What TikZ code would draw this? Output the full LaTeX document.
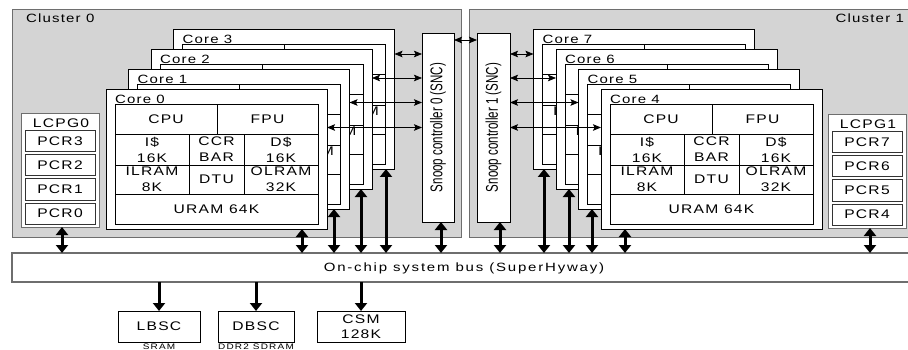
\documentclass[tikz,border=0pt]{standalone}
\usepackage{fontspec}
\setmainfont{Liberation Sans}[FakeStretch=1.25,LetterSpace=10]
\newfontfamily\sncfont{Liberation Sans}
\newfontfamily\widefont{Liberation Sans}[FakeStretch=1.25,LetterSpace=15]
\usetikzlibrary{arrows.meta,calc}
\definecolor{clfill}{RGB}{212,212,212}
\definecolor{clline}{RGB}{110,110,110}
% #1 name, #2 x, #3 y, #4 number
\newcommand\mkcore[4]{%
  \node[corebox,anchor=north west] (#1) at (#2,#3) {};
  \node[ttl,anchor=west] (#1t) at ($(#1.north west)+(9,10)$) {Core #4};
  \node[cell,anchor=north west,minimum width=102,minimum height=30] (#1cpu) at ($(#1.north west)+(9,15)$) {CPU};
  \node[cell,anchor=north west,minimum width=101,minimum height=30] (#1fpu) at ($(#1.north west)+(111,15)$) {FPU};
  \node[cell,anchor=north west,minimum width=74,minimum height=31] (#1ic) at ($(#1.north west)+(9,45)$) {I\$\\16K};
  \node[cell,anchor=north west,minimum width=55,minimum height=31] (#1ccr) at ($(#1.north west)+(83,45)$) {CCR\\BAR};
  \node[cell,anchor=north west,minimum width=74,minimum height=31] (#1dc) at ($(#1.north west)+(138,45)$) {D\$\\16K};
  \node[cell,anchor=north west,minimum width=74,minimum height=29] (#1il) at ($(#1.north west)+(9,76)$) {ILRAM\\8K};
  \node[cell,anchor=north west,minimum width=55,minimum height=29] (#1dtu) at ($(#1.north west)+(83,76)$) {DTU};
  \node[cell,anchor=north west,minimum width=74,minimum height=29] (#1ol) at ($(#1.north west)+(138,76)$) {OLRAM\\32K};
  \node[cell,anchor=north west,minimum width=203,minimum height=30] (#1ur) at ($(#1.north west)+(9,105)$) {URAM 64K};
}
\begin{document}
\begin{tikzpicture}[x=1pt,y=-1pt,
  every node/.style={inner sep=0pt,outer sep=0pt},
  cluster/.style={draw=clline,fill=clfill,line width=0.8pt},
  corebox/.style={draw=black,fill=white,line width=0.7pt,minimum width=221,minimum height=140},
  cell/.style={draw=black,line width=0.6pt,align=center,font=\fontsize{12.5}{16}\selectfont},
  ttl/.style={font=\fontsize{12}{13}\selectfont},
  box/.style={draw=black,fill=white,line width=0.8pt,align=center,font=\fontsize{12.5}{15}\selectfont},
  small/.style={font=\widefont\fontsize{8}{9}\selectfont},
  pcr/.style={draw=black!80,fill=white,line width=1pt,minimum width=70,minimum height=21,font=\fontsize{12.5}{14}\selectfont,anchor=north west},
  thin/.style={line width=0.8pt,{Stealth[length=8pt,width=6.5pt,inset=1.5pt]}-{Stealth[length=8pt,width=6.5pt,inset=1.5pt]}},
  fat/.style={line width=3pt,{Triangle[length=8pt,width=12pt]}-{Triangle[length=8pt,width=12pt]}},
  fatdown/.style={line width=3pt,-{Triangle[length=8pt,width=12pt]}}]
\clip (0,0) rectangle (908,350);
\useasboundingbox (0,0) rectangle (908,350);
% clusters
\node[cluster,anchor=north west,minimum width=449,minimum height=228] (cl0) at (12,9) {};
\node[cluster,anchor=north west,minimum width=460,minimum height=228] (cl1) at (469,9) {};
\node[ttl,anchor=west] (cl0t) at (26,18) {Cluster 0};
\node[ttl,anchor=east] (cl1t) at (904,18) {Cluster 1};
% cores cluster 0 (back to front)
\mkcore{c3}{173.5}{29}{3}
\mkcore{c2}{151}{49}{2}
\mkcore{c1}{128.5}{69}{1}
\mkcore{c0}{106}{89}{0}
% cores cluster 1 (back to front)
\mkcore{c7}{533.5}{29}{7}
\mkcore{c6}{556}{49}{6}
\mkcore{c5}{578.5}{69}{5}
\mkcore{c4}{601}{89}{4}
% snoop controllers
\node[box,anchor=north west,minimum width=32,minimum height=189] (snc0) at (422,33) {};
\node[rotate=90,font=\sncfont\fontsize{17}{17}\selectfont] (snc0t) at (snc0.center) {\scalebox{0.68}[1]{Snoop controller 0 (SNC)}};
\node[box,anchor=north west,minimum width=33,minimum height=189] (snc1) at (477,33) {};
\node[rotate=90,font=\sncfont\fontsize{17}{17}\selectfont] (snc1t) at (snc1.center) {\scalebox{0.68}[1]{Snoop controller 1 (SNC)}};
% LCPG
\node[draw=clline,fill=white,line width=0.8pt,anchor=north west,minimum width=78,minimum height=114] (lp0) at (21,113) {};
\node[font=\fontsize{12.5}{14}\selectfont] (lp0t) at (61,123) {LCPG0};
\node[pcr] (p3) at (25,131) {PCR3};
\node[pcr] (p2) at (25,155) {PCR2};
\node[pcr] (p1) at (25,179) {PCR1};
\node[pcr] (p0) at (25,203) {PCR0};
\node[draw=clline,fill=white,line width=0.8pt,anchor=north west,minimum width=78,minimum height=114] (lp1) at (828,114) {};
\node[font=\fontsize{12.5}{14}\selectfont] (lp1t) at (868,124) {LCPG1};
\node[pcr] (p7) at (832,132) {PCR7};
\node[pcr] (p6) at (832,156) {PCR6};
\node[pcr] (p5) at (832,180) {PCR5};
\node[pcr] (p4) at (832,204) {PCR4};
% bus
\node[draw=clline,fill=white,line width=1.2pt,anchor=north west,minimum width=920,minimum height=29] (bus) at (12,253) {};
\node[font=\widefont\fontsize{12}{14}\selectfont] (bust) at (464,268) {On-chip system bus (SuperHyway)};
% bottom boxes
\node[box,anchor=north west,minimum width=82,minimum height=31] (lbsc) at (118,311) {LBSC};
\node[box,anchor=north west,minimum width=76,minimum height=31] (dbsc) at (218,311) {DBSC};
\node[box,anchor=north west,minimum width=88,minimum height=31] (csm) at (317,311) {CSM\\128K};
\coordinate (y346) at (0,346.5);
\node[small] (sram) at (lbsc.south |- y346) {SRAM};
\node[small] (ddr) at (dbsc.south |- y346) {DDR2 SDRAM};
% thin arrows
\coordinate (y40) at (0,40);
\coordinate (y54) at (0,54);
\coordinate (y78) at (0,78);
\coordinate (y102) at (0,102.5);
\coordinate (y127) at (0,127.5);
\draw[thin] (snc0.east |- y40) -- (snc1.west |- y40);
\draw[thin] (c3.east |- y54) -- (snc0.west |- y54);
\draw[thin] (c2.east |- y78) -- (snc0.west |- y78);
\draw[thin] (c1.east |- y102) -- (snc0.west |- y102);
\draw[thin] (c0.east |- y127) -- (snc0.west |- y127);
\draw[thin] (snc1.east |- y54) -- (c7.west |- y54);
\draw[thin] (snc1.east |- y78) -- (c6.west |- y78);
\draw[thin] (snc1.east |- y102) -- (c5.west |- y102);
\draw[thin] (snc1.east |- y127) -- (c4.west |- y127);
% fat arrows to bus
\coordinate (x62) at (62,0);
\coordinate (x302) at (302,0);
\coordinate (x334) at (334,0);
\coordinate (x361) at (361,0);
\coordinate (x386) at (386,0);
\coordinate (x441) at (441,0);
\coordinate (x500) at (500,0);
\coordinate (x544) at (544,0);
\coordinate (x569) at (569,0);
\coordinate (x592) at (592,0);
\coordinate (x625) at (625,0);
\coordinate (x870) at (870,0);
\draw[fat] (x62 |- lp0.south) -- (x62 |- bus.north);
\draw[fat] (x302 |- c0.south) -- (x302 |- bus.north);
\draw[fat] (x334 |- c1.south) -- (x334 |- bus.north);
\draw[fat] (x361 |- c2.south) -- (x361 |- bus.north);
\draw[fat] (x386 |- c3.south) -- (x386 |- bus.north);
\draw[fat] (x441 |- snc0.south) -- (x441 |- bus.north);
\draw[fat] (x500 |- snc1.south) -- (x500 |- bus.north);
\draw[fat] (x544 |- c7.south) -- (x544 |- bus.north);
\draw[fat] (x569 |- c6.south) -- (x569 |- bus.north);
\draw[fat] (x592 |- c5.south) -- (x592 |- bus.north);
\draw[fat] (x625 |- c4.south) -- (x625 |- bus.north);
\draw[fat] (x870 |- lp1.south) -- (x870 |- bus.north);
% down arrows
\draw[fatdown] (bus.south -| lbsc.north) -- (lbsc.north);
\draw[fatdown] (bus.south -| dbsc.north) -- (dbsc.north);
\draw[fatdown] (bus.south -| csm.north) -- (csm.north);
\end{tikzpicture}
\end{document}
